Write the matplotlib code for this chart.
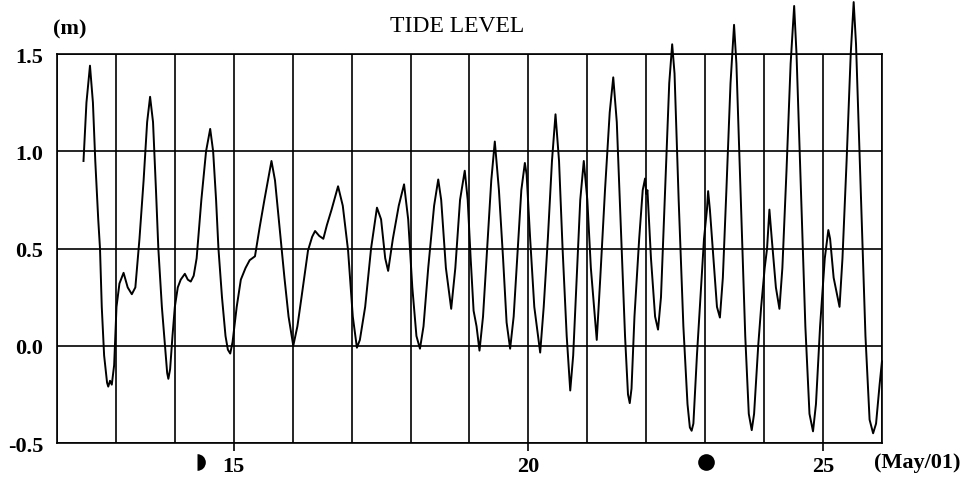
import matplotlib.pyplot as plt
import matplotlib.transforms as mtransforms

# tide level (day of May 2001, metres)
days = [12.45, 12.50, 12.56, 12.61, 12.65, 12.70, 12.73, 12.76, 12.80, 12.85,
        12.87, 12.90, 12.93, 12.97, 13.01, 13.06, 13.13, 13.20, 13.27, 13.33,
        13.40, 13.47, 13.53, 13.58, 13.63, 13.68, 13.72, 13.78, 13.83, 13.87,
        13.89, 13.92, 13.96, 14.00, 14.05, 14.10, 14.17, 14.22, 14.27, 14.32,
        14.37, 14.45, 14.53, 14.60, 14.65, 14.70, 14.74, 14.80, 14.86, 14.90,
        14.94, 14.98, 15.05, 15.12, 15.20, 15.27, 15.36, 15.44, 15.52, 15.64,
        15.70, 15.78, 15.86, 15.93, 16.01, 16.08, 16.15, 16.26, 16.33, 16.38,
        16.45, 16.52, 16.58, 16.66, 16.77, 16.85, 16.94, 17.02, 17.09, 17.14,
        17.23, 17.33, 17.43, 17.50, 17.57, 17.62, 17.70, 17.80, 17.89, 17.96,
        18.03, 18.10, 18.16, 18.22, 18.30, 18.40, 18.47, 18.52, 18.60, 18.69,
        18.76, 18.84, 18.92, 18.97, 19.02, 19.07, 19.12, 19.17, 19.23, 19.30,
        19.37, 19.43, 19.50, 19.57, 19.63, 19.69, 19.75, 19.82, 19.88, 19.94,
        19.97, 20.03, 20.10, 20.20, 20.26, 20.33, 20.40, 20.46, 20.52, 20.58,
        20.65, 20.71, 20.76, 20.82, 20.88, 20.94, 21.00, 21.06, 21.16, 21.22,
        21.30, 21.38, 21.44, 21.50, 21.57, 21.64, 21.69, 21.72, 21.75, 21.80,
        21.88, 21.94, 21.98, 22.00, 22.02, 22.08, 22.15, 22.20, 22.25, 22.32,
        22.39, 22.44, 22.48, 22.55, 22.63, 22.70, 22.74, 22.77, 22.80, 22.86,
        22.93, 22.98, 23.03, 23.05, 23.08, 23.14, 23.20, 23.25, 23.30, 23.36,
        23.43, 23.49, 23.53, 23.60, 23.68, 23.74, 23.79, 23.83, 23.90, 23.95,
        24.01, 24.05, 24.09, 24.13, 24.20, 24.26, 24.31, 24.38, 24.45, 24.51,
        24.55, 24.62, 24.70, 24.77, 24.83, 24.88, 24.95, 25.03, 25.09, 25.12,
        25.18, 25.28, 25.33, 25.40, 25.47, 25.52, 25.56, 25.63, 25.72, 25.79,
        25.85, 25.90, 25.96, 26.00]
level = [0.95, 1.25, 1.44, 1.25, 0.95, 0.65, 0.50, 0.20, -0.05, -0.19,
         -0.21, -0.18, -0.20, -0.10, 0.20, 0.32, 0.375, 0.30, 0.265, 0.30,
         0.55, 0.85, 1.15, 1.28, 1.15, 0.80, 0.50, 0.20, 0.01, -0.14,
         -0.17, -0.12, 0.05, 0.20, 0.30, 0.34, 0.37, 0.34, 0.33, 0.36,
         0.45, 0.75, 1.00, 1.115, 1.00, 0.75, 0.50, 0.25, 0.05, -0.02,
         -0.04, 0.02, 0.20, 0.34, 0.40, 0.44, 0.46, 0.61, 0.75, 0.95,
         0.85, 0.60, 0.35, 0.15, 0.00, 0.10, 0.25, 0.49, 0.56, 0.59,
         0.565, 0.55, 0.62, 0.70, 0.82, 0.72, 0.49, 0.15, -0.01, 0.03,
         0.20, 0.50, 0.71, 0.65, 0.45, 0.385, 0.55, 0.72, 0.83, 0.65,
         0.30, 0.05, -0.015, 0.10, 0.40, 0.72, 0.855, 0.75, 0.40, 0.19,
         0.40, 0.75, 0.90, 0.75, 0.45, 0.18, 0.10, -0.025, 0.15, 0.50,
         0.85, 1.05, 0.80, 0.45, 0.12, -0.015, 0.15, 0.50, 0.80, 0.94,
         0.88, 0.55, 0.20, -0.035, 0.20, 0.55, 0.95, 1.19, 0.95, 0.50,
         0.05, -0.23, -0.05, 0.35, 0.75, 0.95, 0.75, 0.40, 0.03, 0.35,
         0.80, 1.20, 1.38, 1.15, 0.60, 0.05, -0.25, -0.295, -0.22, 0.15,
         0.55, 0.80, 0.86, 0.78, 0.80, 0.45, 0.15, 0.083, 0.25, 0.80,
         1.35, 1.55, 1.40, 0.75, 0.10, -0.30, -0.42, -0.437, -0.40, -0.05,
         0.30, 0.55, 0.70, 0.795, 0.70, 0.45, 0.20, 0.145, 0.35, 0.80,
         1.35, 1.65, 1.45, 0.80, 0.05, -0.35, -0.434, -0.35, 0.00, 0.20,
         0.40, 0.50, 0.70, 0.55, 0.30, 0.19, 0.40, 0.90, 1.45, 1.747,
         1.50, 0.85, 0.10, -0.35, -0.44, -0.30, 0.10, 0.45, 0.595, 0.55,
         0.35, 0.20, 0.45, 0.95, 1.50, 1.767, 1.55, 0.90, 0.05, -0.38,
         -0.45, -0.40, -0.20, -0.08]

ytick_vals = [-0.5, 0.0, 0.5, 1.0, 1.5]
ytick_labels = ['-0.5', '0.0', '0.5', '1.0', '1.5']
xtick_vals = [15, 20, 25]
grid_days = list(range(12, 27))

# moon phase marks under the axis
moon_days = [14.37, 23.01]
moon_fill = ['right', 'full']

plt.rcParams['font.family'] = ['Liberation Serif', 'DejaVu Serif']

fig = plt.figure(figsize=(9.74, 4.89), dpi=100)
ax = fig.add_axes([0.0585, 0.092, 0.847, 0.7955])

ax.plot(days, level, color='black', linewidth=1.4, clip_on=False, zorder=3)

ax.set_xlim(12, 26)
ax.set_ylim(-0.5, 1.5)
ax.set_xticks(xtick_vals)
ax.set_xticklabels([str(v) for v in xtick_vals], fontsize=16, fontweight='bold')
ax.set_xticks(grid_days, minor=True)
ax.set_yticks(ytick_vals)
ax.set_yticklabels(ytick_labels, fontsize=16, fontweight='bold')
ax.tick_params(axis='x', which='major', direction='out', length=6, width=1.2, pad=3)
ax.tick_params(axis='x', which='minor', length=0)
ax.tick_params(axis='y', length=0, pad=10)
ax.grid(True, which='both', color='black', linewidth=1.2)
for s in ax.spines.values():
    s.set_linewidth(1.2)

trans = mtransforms.blended_transform_factory(ax.transData, ax.transAxes)
for d, f in zip(moon_days, moon_fill):
    ax.plot(d, -0.05, marker='o', markersize=12, fillstyle=f, color='black',
            markeredgewidth=0, markerfacecoloralt='none', transform=trans, clip_on=False)

fig.text(0.469, 0.945, 'TIDE LEVEL', ha='center', va='center', fontsize=17)
fig.text(0.072, 0.94, '(m)', ha='center', va='center', fontsize=16, fontweight='bold')
fig.text(0.942, 0.053, '(May/01)', ha='center', va='center', fontsize=16, fontweight='bold')

plt.savefig('out.png', dpi=100)
